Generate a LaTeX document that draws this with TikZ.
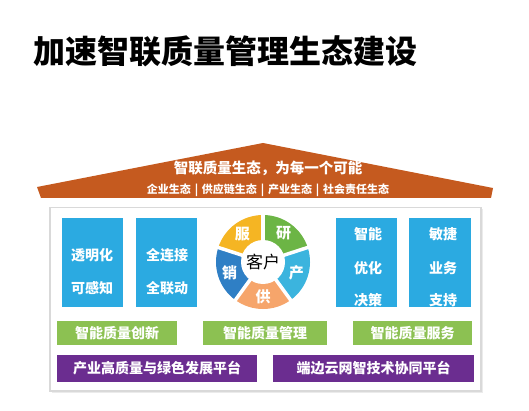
\documentclass[tikz,border=0pt]{standalone}
\usepackage{fontspec}
\setmainfont{Noto Sans CJK SC}
\definecolor{roof}{HTML}{C55A1F}
\definecolor{bbox}{HTML}{2BAAE1}
\definecolor{gbar}{HTML}{8CC152}
\definecolor{pbar}{HTML}{6B2D90}
\definecolor{pyel}{HTML}{F5B523}
\definecolor{pgrn}{HTML}{6CB545}
\definecolor{pcyn}{HTML}{3BB4DE}
\definecolor{ppch}{HTML}{F6A56B}
\definecolor{pblu}{HTML}{2F7FC5}
\newcommand{\sepbar}{\hspace{3.8pt}|\hspace{3.8pt}}
\tikzset{
  bluebox/.style={fill=bbox,draw=none},
  greenbar/.style={fill=gbar,draw=none,text=white,font=\bfseries\fontsize{14}{16}\selectfont},
  purplebar/.style={fill=pbar,draw=none,text=white,font=\bfseries\fontsize{14}{16}\selectfont},
  boxtext/.style={text=white,font=\bfseries\fontsize{14}{16}\selectfont,inner sep=0pt},
  segtext/.style={text=white,font=\bfseries\fontsize{15}{17}\selectfont,inner sep=0pt},
}
\begin{document}
\begin{tikzpicture}[x=1pt,y=-1pt]
\useasboundingbox[fill=white] (0,0) rectangle (529,411);
% title
\node[anchor=west,inner sep=0pt,font=\bfseries\fontsize{32}{36}\selectfont] (title) at (33,51.5) {加速智联质量管理生态建设};
% roof
\fill[roof] (37,187) -- (263,143) -- (493,188) -- (491,198) -- (41,198) -- cycle;
\node[text=white,inner sep=0pt,font=\bfseries\fontsize{14.5}{16}\selectfont] (roofmain) at (268,168) {智联质量生态，为每一个可能};
\node[text=white,inner sep=0pt,font=\bfseries\fontsize{11}{13}\selectfont] (roofsub) at (268,190.5) {企业生态\sepbar 供应链生态\sepbar 产业生态\sepbar 社会责任生态};
% panel
\fill[black!8] (52,209) rectangle (483,393);
\draw[fill=white,draw=black!15,line width=1.2pt] (50,207.5) rectangle (481,391);
% blue boxes
\node[bluebox,minimum width=61pt,minimum height=89pt,inner sep=0pt] (b1) at (92.5,262.5) {};
\node[bluebox,minimum width=61pt,minimum height=89pt,inner sep=0pt] (b2) at (166.5,262.5) {};
\node[bluebox,minimum width=61pt,minimum height=89pt,inner sep=0pt] (b3) at (366.5,262.5) {};
\node[bluebox,minimum width=62pt,minimum height=89pt,inner sep=0pt] (b4) at (440,262.5) {};
\node[boxtext] (t11) at (92,255) {透明化};
\node[boxtext] (t12) at (92,288) {可感知};
\node[boxtext] (t21) at (167,255) {全连接};
\node[boxtext] (t22) at (167,288) {全联动};
\node[boxtext] (t31) at (368,234) {智能};
\node[boxtext] (t32) at (368,268) {优化};
\node[boxtext] (t33) at (368,300) {决策};
\node[boxtext] (t41) at (443,234) {敏捷};
\node[boxtext] (t42) at (443,268) {业务};
\node[boxtext] (t43) at (443,300) {支持};
% pie
\begin{scope}[shift={(263,262)},y=1pt]
  \fill[pyel] (0,0) -- (90:47) arc[start angle=90,end angle=162,radius=47] -- cycle;
  \fill[pgrn] (0,0) -- (18:47) arc[start angle=18,end angle=90,radius=47] -- cycle;
  \fill[pcyn] (0,0) -- (-54:47) arc[start angle=-54,end angle=18,radius=47] -- cycle;
  \fill[ppch] (0,0) -- (-126:47) arc[start angle=-126,end angle=-54,radius=47] -- cycle;
  \fill[pblu] (0,0) -- (162:47) arc[start angle=162,end angle=234,radius=47] -- cycle;
  \foreach \a in {90,18,-54,-126,162} \draw[white,line width=3.5pt] (0,0) -- (\a:49);
  \fill[white] (0,0) circle[radius=22];
  \node[inner sep=0pt,font=\fontsize{17}{19}\selectfont] (kehu) at (0,0) {客户};
  \node[segtext] (fu) at (126:35) {服};
  \node[segtext] (yan) at (54:35) {研};
  \node[segtext] (chan) at (-18:35) {产};
  \node[segtext] (gong) at (-90:35) {供};
  \node[segtext] (xiao) at (198:35) {销};
\end{scope}
% green bars
\node[greenbar,minimum width=120pt,minimum height=24pt,inner sep=0pt] (g1) at (117,333) {智能质量创新};
\node[greenbar,minimum width=124pt,minimum height=24pt,inner sep=0pt] (g2) at (265,333) {智能质量管理};
\node[greenbar,minimum width=119pt,minimum height=24pt,inner sep=0pt] (g3) at (412.5,333) {智能质量服务};
% purple bars
\node[purplebar,minimum width=200pt,minimum height=27pt,inner sep=0pt] (p1) at (157,368.5) {产业高质量与绿色发展平台};
\node[purplebar,minimum width=201pt,minimum height=27pt,inner sep=0pt] (p2) at (373.5,368.5) {端边云网智技术协同平台};
\end{tikzpicture}
\end{document}
